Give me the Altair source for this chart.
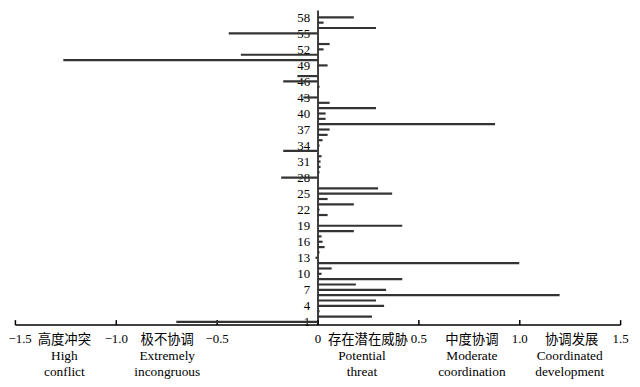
import altair as alt
import pandas as pd

# ---- data ----
categories = list(range(1, 59))
values = [
    -0.70, 0.27, 0.01, 0.33, 0.29, 1.20, 0.34, 0.19, 0.42, 0.02,   # 1-10
    0.07, 1.00, -0.01, 0.01, 0.035, 0.025, 0.02, 0.18, 0.42, 0.005,  # 11-20
    0.05, 0.01, 0.18, 0.05, 0.37, 0.30, 0.005, -0.18, 0.01, 0.015,   # 21-30
    0.015, 0.02, -0.17, 0.01, 0.025, 0.05, 0.06, 0.88, 0.04, 0.04,   # 31-40
    0.29, 0.06, -0.07, 0.005, 0.01, -0.17, -0.10, 0.0, 0.05, -1.26,  # 41-50
    -0.38, 0.03, 0.06, 0.005, -0.44, 0.29, 0.03, 0.18                # 51-58
]
x_tick_values = [-1.5, -1.0, -0.5, 0, 0.5, 1.0, 1.5]
y_label_values = list(range(1, 59, 3))

zh_labels = ["高度冲突", "极不协调", "存在潜在威胁", "中度协调", "协调发展"]
en_labels = ["High\nconflict", "Extremely\nincongruous", "Potential\nthreat",
             "Moderate\ncoordination", "Coordinated\ndevelopment"]
zh_x = [-1.255, -0.745, 0.25, 0.765, 1.26]
en_x = [-1.255, -0.745, 0.22, 0.765, 1.25]

W, H = 612, 318
FONT = "Liberation Serif, Times New Roman, Noto Sans CJK SC, serif"

bars_df = pd.DataFrame({"cat": categories, "value": values})
zh_df = pd.DataFrame({"x": zh_x, "label": zh_labels})
en_df = pd.DataFrame({"x": en_x, "label": en_labels})

xscale = alt.Scale(domain=[-1.5, 1.5], nice=False, zero=False)

bars = alt.Chart(bars_df).mark_rule(strokeWidth=2.2, color="#333333").encode(
    x=alt.X("value:Q", scale=xscale,
            axis=alt.Axis(orient="bottom", values=x_tick_values, ticks=False,
                          labelExpr="datum.value == 0 ? '0' : format(datum.value, '.1f')",
                          labelAlign={"condition": {"test": "datum.value == -1.5", "value": "left"},
                                      "value": "center"},
                          labelOffset={"condition": {"test": "datum.value == -1.5", "value": -7},
                                       "value": 0},
                          labelPadding=8,
                          labelFontSize=13, labelFont=FONT, labelColor="black",
                          domainColor="black", domainWidth=1.5, grid=False, title=None)),
    x2=alt.datum(0),
    y=alt.Y("cat:Q", scale=alt.Scale(domain=[0.5, 59.35], nice=False, zero=False),
            axis=alt.Axis(orient="left", values=y_label_values, offset=-W / 2, ticks=False,
                          labelPadding=8, labelFontSize=13, labelFont=FONT,
                          labelColor="black", domainColor="black", domainWidth=1.5,
                          grid=False, title=None)),
)

zh = alt.Chart(zh_df).mark_text(font=FONT, fontSize=13.5, baseline="alphabetic",
                                color="black").encode(
    x=alt.X("x:Q", scale=xscale,
            axis=alt.Axis(orient="top", offset=-H, values=x_tick_values, tickSize=5,
                          tickColor="black", tickWidth=1.5, labels=False, domain=False,
                          grid=False, title=None)),
    y=alt.value(H + 20),
    text="label:N",
)

en = alt.Chart(en_df).mark_text(font=FONT, fontSize=13.5, baseline="alphabetic",
                                color="black", lineBreak="\n", lineHeight=16).encode(
    x=alt.X("x:Q", scale=xscale, axis=None),
    y=alt.value(H + 36),
    text="label:N",
)

chart = alt.layer(bars, zh, en).resolve_axis(x="independent").properties(
    width=W, height=H,
    padding={"left": 7, "right": 12, "top": 0, "bottom": 61},
    autosize=alt.AutoSizeParams(type="none"),
    background="white",
).configure_view(stroke=None)

chart.save("out.html", embed_options={"renderer": "svg", "actions": False})
